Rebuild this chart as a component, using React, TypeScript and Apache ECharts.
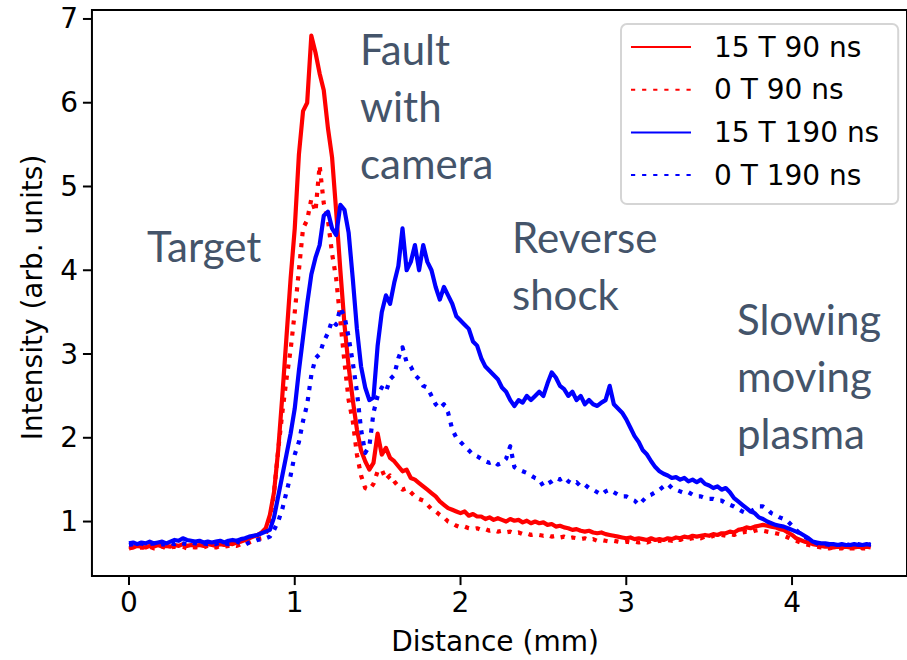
import React, { useEffect, useRef } from "react";
import * as echarts from "echarts";

// Sample positions along the target normal (mm)
const distance = [
  0, 0.025, 0.05, 0.075, 0.1, 0.125, 0.15, 0.175, 0.2, 0.225,
  0.25, 0.275, 0.3, 0.325, 0.35, 0.375, 0.4, 0.425, 0.45, 0.475,
  0.5, 0.525, 0.55, 0.575, 0.6, 0.625, 0.65, 0.675, 0.7, 0.725,
  0.75, 0.775, 0.8, 0.825, 0.85, 0.875, 0.9, 0.925, 0.95, 0.975,
  1.0, 1.025, 1.05, 1.075, 1.1, 1.125, 1.15, 1.175, 1.2, 1.225,
  1.25, 1.275, 1.3, 1.325, 1.35, 1.375, 1.4, 1.425, 1.45, 1.475,
  1.5, 1.525, 1.55, 1.575, 1.6, 1.625, 1.65, 1.675, 1.7, 1.725,
  1.75, 1.775, 1.8, 1.825, 1.85, 1.875, 1.9, 1.925, 1.95, 1.975,
  2.0, 2.025, 2.05, 2.075, 2.1, 2.125, 2.15, 2.175, 2.2, 2.225,
  2.25, 2.275, 2.3, 2.325, 2.35, 2.375, 2.4, 2.425, 2.45, 2.475,
  2.5, 2.525, 2.55, 2.575, 2.6, 2.625, 2.65, 2.675, 2.7, 2.725,
  2.75, 2.775, 2.8, 2.825, 2.85, 2.875, 2.9, 2.925, 2.95, 2.975,
  3.0, 3.025, 3.05, 3.075, 3.1, 3.125, 3.15, 3.175, 3.2, 3.225,
  3.25, 3.275, 3.3, 3.325, 3.35, 3.375, 3.4, 3.425, 3.45, 3.475,
  3.5, 3.525, 3.55, 3.575, 3.6, 3.625, 3.65, 3.675, 3.7, 3.725,
  3.75, 3.775, 3.8, 3.825, 3.85, 3.875, 3.9, 3.925, 3.95, 3.975,
  4.0, 4.025, 4.05, 4.075, 4.1, 4.125, 4.15, 4.175, 4.2, 4.225,
  4.25, 4.275, 4.3, 4.325, 4.35, 4.375, 4.4, 4.425, 4.45, 4.475,
];

const intensity15T90 = [
  0.70, 0.69, 0.71, 0.70, 0.69, 0.71, 0.70, 0.72, 0.70, 0.71,
  0.70, 0.72, 0.71, 0.73, 0.71, 0.72, 0.71, 0.72, 0.71, 0.73,
  0.72, 0.71, 0.73, 0.72, 0.74, 0.73, 0.75, 0.76, 0.78, 0.80,
  0.82, 0.84, 0.87, 0.92, 1.08, 1.35, 1.85, 2.50, 3.20, 3.90,
  4.50, 5.38, 5.90, 6.00, 6.80, 6.60, 6.35, 6.15, 5.70, 5.35,
  4.70, 4.00, 3.35, 2.85, 2.45, 2.10, 1.85, 1.72, 1.62, 1.70,
  2.05, 1.80, 1.88, 1.76, 1.72, 1.66, 1.60, 1.62, 1.52, 1.50,
  1.46, 1.42, 1.38, 1.34, 1.30, 1.24, 1.20, 1.16, 1.14, 1.12,
  1.10, 1.12, 1.07, 1.09, 1.06, 1.06, 1.03, 1.05, 1.02, 1.04,
  1.02, 1.00, 1.03, 1.01, 1.02, 0.99, 1.01, 0.98, 1.00, 0.98,
  0.99, 0.96, 0.97, 0.94, 0.95, 0.93, 0.92, 0.90, 0.91, 0.89,
  0.88, 0.89, 0.87, 0.86, 0.87, 0.85, 0.84, 0.83, 0.82, 0.81,
  0.80, 0.81, 0.79, 0.80, 0.79, 0.78, 0.80, 0.78, 0.79, 0.78,
  0.80, 0.79, 0.81, 0.80, 0.82, 0.81, 0.83, 0.82, 0.83, 0.84,
  0.83, 0.85, 0.84, 0.86, 0.86, 0.88, 0.87, 0.90, 0.91, 0.93,
  0.92, 0.94, 0.95, 0.96, 0.95, 0.94, 0.93, 0.91, 0.90, 0.87,
  0.84, 0.80, 0.78, 0.76, 0.75, 0.73, 0.72, 0.71, 0.70, 0.70,
  0.69, 0.70, 0.69, 0.70, 0.69, 0.69, 0.70, 0.69, 0.70, 0.69,
];

const intensity0T90 = [
  0.68, 0.69, 0.68, 0.69, 0.68, 0.70, 0.68, 0.69, 0.70, 0.68,
  0.69, 0.70, 0.69, 0.70, 0.68, 0.70, 0.69, 0.70, 0.69, 0.71,
  0.70, 0.69, 0.71, 0.70, 0.71, 0.72, 0.71, 0.73, 0.74, 0.75,
  0.77, 0.79, 0.80, 0.85, 1.00, 1.35, 1.85, 2.30, 2.70, 3.05,
  3.50, 4.00, 4.50, 4.60, 4.85, 4.70, 5.25, 4.80, 4.60, 4.20,
  3.90, 3.40, 2.90, 2.45, 2.20, 1.80, 1.55, 1.40, 1.38, 1.45,
  1.60, 1.62, 1.50, 1.55, 1.48, 1.42, 1.38, 1.40, 1.35, 1.30,
  1.27, 1.25, 1.20, 1.15, 1.12, 1.08, 1.05, 1.00, 0.98, 0.95,
  0.93, 0.94, 0.92, 0.91, 0.92, 0.90, 0.91, 0.89, 0.90, 0.88,
  0.89, 0.87, 0.88, 0.86, 0.87, 0.85, 0.86, 0.84, 0.85, 0.84,
  0.83, 0.84, 0.82, 0.83, 0.81, 0.82, 0.80, 0.81, 0.80, 0.79,
  0.80, 0.78, 0.79, 0.77, 0.78, 0.77, 0.76, 0.77, 0.76, 0.75,
  0.76, 0.75, 0.76, 0.75, 0.76, 0.75, 0.77, 0.76, 0.77, 0.76,
  0.78, 0.77, 0.79, 0.78, 0.80, 0.79, 0.80, 0.81, 0.80, 0.82,
  0.81, 0.83, 0.82, 0.84, 0.83, 0.85, 0.84, 0.86, 0.87, 0.88,
  0.87, 0.89, 0.90, 0.89, 0.88, 0.87, 0.86, 0.85, 0.83, 0.81,
  0.79, 0.77, 0.75, 0.73, 0.72, 0.71, 0.70, 0.69, 0.69, 0.68,
  0.69, 0.68, 0.68, 0.69, 0.68, 0.68, 0.69, 0.68, 0.68, 0.68,
];

const intensity15T190 = [
  0.74, 0.75, 0.73, 0.75, 0.74, 0.76, 0.74, 0.75, 0.76, 0.74,
  0.76, 0.78, 0.77, 0.80, 0.78, 0.77, 0.76, 0.77, 0.75, 0.76,
  0.75, 0.76, 0.77, 0.75, 0.77, 0.78, 0.77, 0.79, 0.80, 0.82,
  0.83, 0.84, 0.86, 0.88, 0.90, 1.05, 1.30, 1.55, 1.80, 2.05,
  2.35, 2.80, 3.20, 3.60, 3.95, 4.15, 4.30, 4.65, 4.70, 4.50,
  4.42, 4.78, 4.72, 4.45, 3.90, 3.30, 2.85, 2.60, 2.45, 2.48,
  3.10, 3.50, 3.70, 3.60, 3.85, 4.05, 4.50, 4.00, 4.10, 4.30,
  4.00, 4.30, 4.10, 4.00, 3.80, 3.65, 3.80, 3.70, 3.60, 3.45,
  3.40, 3.35, 3.30, 3.15, 3.10, 2.95, 2.85, 2.80, 2.75, 2.70,
  2.60, 2.55, 2.45, 2.38, 2.45, 2.42, 2.50, 2.45, 2.50, 2.55,
  2.50, 2.65, 2.78, 2.72, 2.62, 2.58, 2.50, 2.55, 2.45, 2.50,
  2.40, 2.45, 2.40, 2.38, 2.42, 2.45, 2.62, 2.40, 2.35, 2.30,
  2.22, 2.12, 2.02, 1.95, 1.85, 1.80, 1.72, 1.65, 1.60, 1.57,
  1.55, 1.52, 1.53, 1.50, 1.52, 1.48, 1.50, 1.47, 1.50, 1.45,
  1.43, 1.40, 1.42, 1.38, 1.40, 1.35, 1.28, 1.24, 1.20, 1.16,
  1.12, 1.10, 1.05, 1.03, 1.00, 0.98, 0.96, 0.95, 0.94, 0.92,
  0.90, 0.88, 0.86, 0.83, 0.80, 0.76, 0.75, 0.74, 0.74, 0.73,
  0.73, 0.72, 0.73, 0.72, 0.72, 0.73, 0.72, 0.72, 0.73, 0.72,
];

const intensity0T190 = [
  0.72, 0.73, 0.72, 0.74, 0.72, 0.73, 0.74, 0.72, 0.73, 0.72,
  0.74, 0.73, 0.75, 0.74, 0.73, 0.75, 0.74, 0.73, 0.74, 0.73,
  0.74, 0.73, 0.75, 0.74, 0.73, 0.74, 0.76, 0.74, 0.72, 0.75,
  0.76, 0.78, 0.79, 0.80, 0.82, 0.90, 1.00, 1.15, 1.35, 1.55,
  1.80, 1.95, 2.20, 2.40, 2.75, 2.95, 3.00, 3.15, 3.25, 3.40,
  3.35, 3.55, 3.45, 3.20, 2.90, 2.55, 2.10, 1.82, 1.90, 2.30,
  2.50, 2.60, 2.55, 2.70, 2.75, 2.95, 3.08, 2.90, 2.85, 2.75,
  2.70, 2.62, 2.60, 2.50, 2.40, 2.35, 2.40, 2.30, 2.10, 2.00,
  1.95, 1.90, 1.85, 1.80, 1.78, 1.75, 1.72, 1.70, 1.72, 1.68,
  1.70, 1.75, 1.90, 1.65, 1.62, 1.60, 1.58, 1.55, 1.52, 1.50,
  1.42, 1.45, 1.48, 1.52, 1.50, 1.53, 1.48, 1.45, 1.47, 1.42,
  1.44, 1.40, 1.38, 1.35, 1.32, 1.36, 1.38, 1.35, 1.32, 1.30,
  1.30, 1.27, 1.25, 1.20, 1.25, 1.30, 1.32, 1.35, 1.38, 1.42,
  1.45, 1.40, 1.38, 1.36, 1.34, 1.35, 1.32, 1.30, 1.30, 1.28,
  1.27, 1.27, 1.25, 1.25, 1.22, 1.20, 1.18, 1.15, 1.12, 1.10,
  1.12, 1.15, 1.18, 1.18, 1.15, 1.10, 1.08, 1.05, 1.03, 1.00,
  0.95, 0.90, 0.85, 0.82, 0.79, 0.76, 0.74, 0.73, 0.73, 0.72,
  0.73, 0.72, 0.72, 0.73, 0.72, 0.72, 0.73, 0.72, 0.72, 0.73,
];

const seriesNames = ["15 T 90 ns", "0 T 90 ns", "15 T 190 ns", "0 T 190 ns"];
const xTickValues = [0, 1, 2, 3, 4];
const yTickValues = [1, 2, 3, 4, 5, 6, 7];
const xAxisTitle = "Distance (mm)";
const yAxisTitle = "Intensity (arb. units)";
const annotationTexts = ["Target", "Fault\nwith\ncamera", "Reverse\nshock", "Slowing\nmoving\nplasma"];

export default function App() {
  const ref = useRef<HTMLDivElement>(null);

  useEffect(() => {
    if (!ref.current) return;
    const chart = echarts.init(ref.current, null, { renderer: "svg" });
    const toPairs = (ys: number[]) => distance.map((x, i) => [x, ys[i]]);
    const font = "DejaVu Sans";
    const dotted = [4.2, 6.9];

    // Plot frame (data bounds of the axes box)
    const xMin = -0.2235;
    const xMax = 4.6935;
    const yMin = 0.349;
    const yMax = 7.107;
    const tickLen = 9;
    // Grid extended by the tick length on the left and bottom so the ticks lie inside it
    const frameLeft = 92;
    const frameTop = 10;
    const frameW = 820;
    const frameH = 571;
    const xPerPx = (xMax - xMin) / frameW;
    const yPerPx = (yMax - yMin) / frameH;
    const axisXMin = xMin - tickLen * xPerPx;
    const axisYMin = yMin - tickLen * yPerPx;

    const mk = (name: string, ys: number[], color: string, dash: boolean) => ({
      name,
      type: "line",
      data: toPairs(ys),
      symbol: "none",
      showSymbol: false,
      clip: false,
      z: 2,
      itemStyle: { color },
      lineStyle: { color, width: 4.2, type: dash ? dotted : "solid", cap: "butt", join: "round" },
      emphasis: { disabled: true },
    });
    const annStyle = { fontSize: 42, fontFamily: "Lato", fill: "#44546A", lineHeight: 57, verticalAlign: "top", align: "left" };
    const annPos = [
      [147, 217],
      [360, 20],
      [512, 208],
      [737, 290],
    ];

    chart.setOption({
      animation: false,
      backgroundColor: "#ffffff",
      grid: {
        left: frameLeft - tickLen,
        top: frameTop,
        width: frameW + tickLen,
        height: frameH + tickLen,
        show: false,
      },
      xAxis: {
        type: "value",
        min: axisXMin,
        max: xMax,
        axisLine: { show: false, onZero: false },
        splitLine: { show: false },
        axisTick: { show: false },
        axisLabel: { customValues: xTickValues, fontSize: 28, fontFamily: font, color: "#000", margin: 3 },
        name: xAxisTitle,
        nameLocation: "middle",
        nameGap: 42,
        nameTextStyle: { fontSize: 28, fontFamily: font, color: "#000" },
      },
      yAxis: {
        type: "value",
        min: axisYMin,
        max: yMax,
        axisLine: { show: false, onZero: false },
        splitLine: { show: false },
        axisTick: { show: false },
        axisLabel: { customValues: yTickValues, fontSize: 28, fontFamily: font, color: "#000", margin: 5 },
        name: yAxisTitle,
        nameLocation: "middle",
        nameGap: 37,
        nameTextStyle: { fontSize: 28, fontFamily: font, color: "#000" },
      },
      legend: {
        orient: "vertical",
        left: 621,
        top: 24,
        padding: [9, 19, 15, 9],
        itemWidth: 60,
        itemHeight: 28,
        itemGap: 14.7,
        backgroundColor: "#ffffff",
        borderColor: "#d5d5d5",
        borderWidth: 2,
        borderRadius: 6,
        itemStyle: { opacity: 0 },
        textStyle: { fontSize: 28, fontFamily: font, color: "#000", lineHeight: 28, padding: [0, 0, 0, 18] },
        data: seriesNames,
        selectedMode: false,
      },
      series: [
        mk(seriesNames[0], intensity15T90, "#ff0000", false),
        mk(seriesNames[1], intensity0T90, "#ff0000", true),
        mk(seriesNames[2], intensity15T190, "#0000ff", false),
        mk(seriesNames[3], intensity0T190, "#0000ff", true),
        {
          type: "custom",
          name: "frame",
          clip: false,
          silent: true,
          z: 4,
          data: [[xMin, yMin, xMax, yMax]],
          renderItem: (_p: any, api: any) => {
            const a = api.coord([api.value(0), api.value(3)]);
            const b = api.coord([api.value(2), api.value(1)]);
            return {
              type: "rect",
              shape: { x: a[0], y: a[1], width: b[0] - a[0], height: b[1] - a[1] },
              style: { fill: "none", stroke: "#000", lineWidth: 2 },
            };
          },
        },
        {
          type: "custom",
          name: "x ticks",
          clip: false,
          silent: true,
          z: 4,
          data: xTickValues.map((v) => [v, yMin]),
          renderItem: (_p: any, api: any) => {
            const pt = api.coord([api.value(0), api.value(1)]);
            return {
              type: "rect",
              shape: { x: pt[0] - 1, y: pt[1], width: 2, height: tickLen },
              style: { fill: "#000" },
            };
          },
        },
        {
          type: "custom",
          name: "y ticks",
          clip: false,
          silent: true,
          z: 4,
          data: yTickValues.map((v) => [xMin, v]),
          renderItem: (_p: any, api: any) => {
            const pt = api.coord([api.value(0), api.value(1)]);
            return {
              type: "rect",
              shape: { x: pt[0] - tickLen, y: pt[1] - 1, width: tickLen, height: 2 },
              style: { fill: "#000" },
            };
          },
        },
      ],
      graphic: annotationTexts.map((t, i) => ({
        type: "text",
        x: annPos[i][0],
        y: annPos[i][1],
        silent: true,
        z: 100,
        style: { ...annStyle, text: t },
      })),
    });

    return () => chart.dispose();
  }, []);

  return (
    <div
      ref={ref}
      style={{ position: "absolute", left: 0, top: 0, width: 907, height: 660, background: "#fff" }}
    />
  );
}
